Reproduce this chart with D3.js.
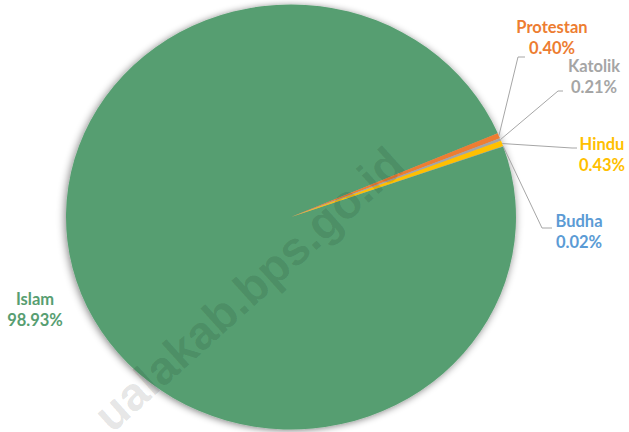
<!DOCTYPE html>
<html lang="id">
<head>
    <meta charset="utf-8">
    <title>Persentase penduduk menurut agama</title>
    <script src="https://cdn.jsdelivr.net/npm/d3@7"></script>
    <style>
        body { margin: 0; background: #fff; }
        text { font-family: Lato, "Open Sans", sans-serif; font-weight: bold; }
    </style>
</head>
<body>
    <script>

        // data
        var agama = ["Islam", "Protestan", "Katolik", "Hindu", "Budha"];
        var persen = [98.93, 0.40, 0.21, 0.43, 0.02];
        var warna = ["#579e71", "#ed7d31", "#a5a5a5", "#ffc000", "#5b9bd5"];

        // label layout: text centre x, first baseline, and leader elbow point
        var labelPos = [
            { x: 35, y: 305, elbow: null },
            { x: 552, y: 33, elbow: [[518, 57], [525, 57]] },
            { x: 594, y: 72, elbow: [[558, 91], [563, 91]] },
            { x: 602, y: 150, elbow: [[572, 148], [577, 148]] },
            { x: 579, y: 227, elbow: [[542, 228], [552, 228]] }
        ];

        var w = 629, h = 432;
        var cx = 291, cy = 217;
        var rx = 225, ry = 212.5;

        var svg = d3.select("body").append("svg")
            .attr("width", w)
            .attr("height", h);

        // soft shadow round the pie
        var defs = svg.append("defs");
        var f = defs.append("filter").attr("id", "shadow")
            .attr("x", "-10%").attr("y", "-10%").attr("width", "120%").attr("height", "120%");
        f.append("feGaussianBlur").attr("in", "SourceAlpha").attr("stdDeviation", 4).attr("result", "blur");
        f.append("feOffset").attr("in", "blur").attr("dx", -1).attr("dy", 1).attr("result", "off");
        f.append("feComponentTransfer").attr("in", "off").attr("result", "sh")
            .append("feFuncA").attr("type", "linear").attr("slope", 0.5);
        var m = f.append("feMerge");
        m.append("feMergeNode").attr("in", "sh");
        m.append("feMergeNode").attr("in", "SourceGraphic");

        // Islam ends where Protestan starts, about 67 degrees clockwise from 12 o'clock
        var total = d3.sum(persen);
        var a1 = 66.8 * Math.PI / 180;
        var a0 = a1 - persen[0] / total * 2 * Math.PI;

        var pie = d3.pie().sort(null).value(function (d) { return d; })
            .startAngle(a0).endAngle(a0 + 2 * Math.PI);
        var arcs = pie(persen);

        var arc = d3.arc().innerRadius(0).outerRadius(rx);

        var g = svg.append("g")
            .attr("filter", "url(#shadow)")
            .attr("transform", "translate(" + cx + "," + cy + ") scale(1," + (ry / rx) + ")");

        g.selectAll("path")
            .data(arcs)
            .enter()
            .append("path")
            .attr("d", arc)
            .style("fill", function (d, i) { return warna[i]; });

        // leader lines
        function edgePoint(d) {
            var a = (d.startAngle + d.endAngle) / 2;
            return [cx + rx * Math.sin(a), cy - ry * Math.cos(a)];
        }
        var line = d3.line();
        svg.selectAll("path.leader")
            .data(arcs.slice(1))
            .enter()
            .append("path")
            .attr("class", "leader")
            .attr("d", function (d, i) {
                return line([edgePoint(d)].concat(labelPos[i + 1].elbow));
            })
            .style("fill", "none")
            .style("stroke", "#a6a6a6")
            .style("stroke-width", 1);

        // labels
        var lab = svg.selectAll("text.lab")
            .data(arcs)
            .enter()
            .append("text")
            .attr("class", "lab")
            .attr("text-anchor", "middle")
            .style("font-size", "16.5px")
            .style("fill", function (d, i) { return warna[i]; });
        lab.append("tspan")
            .attr("x", function (d, i) { return labelPos[i].x; })
            .attr("y", function (d, i) { return labelPos[i].y; })
            .text(function (d, i) { return agama[i]; });
        lab.append("tspan")
            .attr("x", function (d, i) { return labelPos[i].x; })
            .attr("y", function (d, i) { return labelPos[i].y + 20.5; })
            .text(function (d, i) { return persen[i].toFixed(2) + "%"; });

        // watermark
        svg.append("text")
            .attr("transform", "translate(112,434) rotate(-42)")
            .style("font-family", "'Liberation Sans', Arial, sans-serif")
            .style("font-weight", "bold")
            .style("font-size", "47px")
            .style("fill", "rgba(0,0,0,0.11)")
            .text("ualakab.bps.go.id");

    </script>
</body>
</html>
